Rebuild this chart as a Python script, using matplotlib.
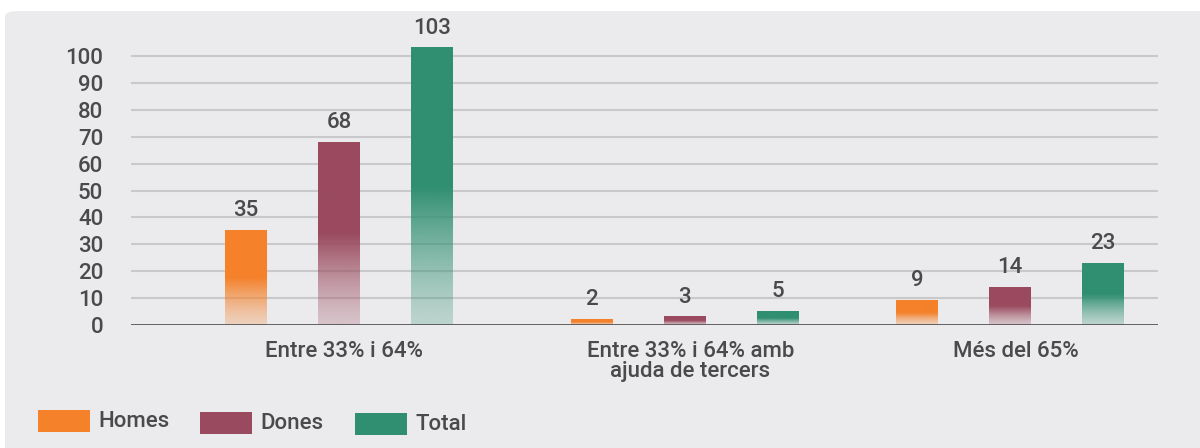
import numpy as np
import matplotlib.pyplot as plt
from matplotlib.patches import FancyBboxPatch, Rectangle
from matplotlib.colors import to_rgb

plt.rcParams['font.family'] = ['Roboto', 'DejaVu Sans']

# Grau de discapacitat per sexe
categories = ['Entre 33% i 64%', 'Entre 33% i 64% amb\najuda de tercers', 'Més del 65%']
series_names = ['Homes', 'Dones', 'Total']
homes = [35, 2, 9]
dones = [68, 3, 14]
total = [103, 5, 23]
yticks = list(range(0, 101, 10))

colors = ['#f5812a', '#9a4a5e', '#2f8f70']
text_col = '#4a4a4c'
panel_col = '#ebebed'
fs = 16

fig = plt.figure(figsize=(12, 4.48), dpi=100)
fig.patch.set_facecolor('white')

# rounded grey panel behind everything
panel = FancyBboxPatch((5 / 1200, -0.05), 1.05, (437 / 448) + 0.05,
                       boxstyle='round,pad=0,rounding_size=0.012',
                       transform=fig.transFigure, facecolor=panel_col,
                       edgecolor='none', zorder=-5)
fig.patches.append(panel)

ax = fig.add_axes([131 / 1200, 123 / 448, 1027 / 1200, 0.6304])
ax.set_facecolor('none')
ax.set_zorder(1)

ax.set_yticks(yticks)
ax.set_yticklabels([str(t) for t in yticks], fontsize=fs, color=text_col,
                   fontweight='medium')
ax.tick_params(axis='y', length=0, pad=20)
ax.set_xticks([])
for s in ax.spines.values():
    s.set_visible(False)
for t in yticks[1:]:
    ax.axhline(t, color='#c9c9cb', lw=1.5, zorder=1)
ax.axhline(0, color='#555555', lw=2, zorder=4)


def gradient_bar(ax, x, w, h, color):
    # solid on the upper half, fading towards the baseline
    n = 200
    frac = np.linspace(0, 1, n)  # 0 = bottom, 1 = top
    alpha = np.where(frac >= 0.5, 1.0, 0.25 + 0.75 * (frac / 0.5) ** 1.3)
    rgba = np.zeros((n, 1, 4))
    rgba[..., :3] = to_rgb(color)
    rgba[:, 0, 3] = alpha
    ax.imshow(rgba, extent=(x - w / 2, x + w / 2, 0, h), origin='lower',
              aspect='auto', interpolation='bilinear', zorder=3)


# group centres are not evenly spaced in this layout
group_x = np.array([0.0, 1.031, 2.0])
offsets = [-0.277, 0, 0.277]
width = 0.125
for vals, off, col in zip([homes, dones, total], offsets, colors):
    for xi, v in zip(group_x, vals):
        gradient_bar(ax, xi + off, width, v, col)
        ax.text(xi + off, v + 3.5, str(v), ha='center', va='bottom',
                fontsize=fs, color=text_col, fontweight='medium')
ax.set_xlim(-0.62, 2.441)
ax.set_ylim(0, 105)

for xi, lab in zip(group_x, categories):
    ax.text(xi + 0.016, -6, lab, ha='center', va='top', fontsize=fs,
            color=text_col, linespacing=0.95, fontweight='medium')

# legend along the bottom
leg_x = [38, 200, 355]
leg_y = [410, 412, 413]
for lx, ly, name, col in zip(leg_x, leg_y, series_names, colors):
    fig.patches.append(Rectangle((lx / 1200, 1 - (ly + 22) / 448), 52 / 1200, 22 / 448,
                                 transform=fig.transFigure, facecolor=col,
                                 edgecolor='none', zorder=2))
    fig.text((lx + 60) / 1200, 1 - (ly + 11) / 448, name, ha='left',
             va='center', fontsize=fs, color=text_col, fontweight='medium')

fig.savefig('out.png', dpi=100, facecolor='white')
